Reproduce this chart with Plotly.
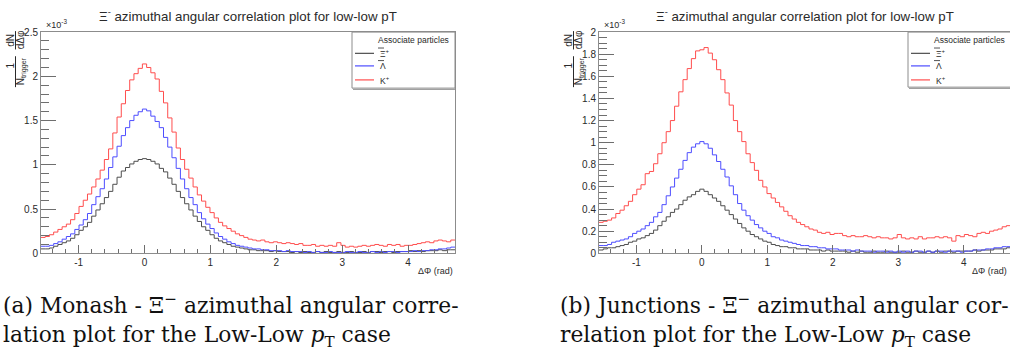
import numpy as np
import plotly.graph_objects as go

# ---------------- data (values in units of 1e-3) ----------------
n_bins = 98
dphi_min, dphi_max = -np.pi / 2, 3 * np.pi / 2

monash_xi = [0.05, 0.05, 0.06, 0.08, 0.10, 0.12, 0.14, 0.17, 0.21, 0.26, 0.30, 0.35, 0.42, 0.49, 0.56, 0.63, 0.70, 0.78, 0.86, 0.93, 0.97, 1.01, 1.04, 1.06, 1.07,
             1.06, 1.04, 1.01, 0.96, 0.92, 0.85, 0.78, 0.70, 0.63, 0.56, 0.49, 0.42, 0.36, 0.30, 0.26, 0.21, 0.17, 0.14, 0.12, 0.10, 0.08, 0.07, 0.06, 0.05,
             0.04, 0.04, 0.03, 0.03, 0.03, 0.02, 0.03, 0.02, 0.02, 0.02, 0.01, 0.02, 0.01, 0.02, 0.01, 0.01, 0.02, 0.01, 0.02, 0.01, 0.01, 0.02, 0.01, 0.01,
             0.02, 0.01, 0.01, 0.02, 0.01, 0.02, 0.02, 0.01, 0.02, 0.02, 0.01, 0.02, 0.02, 0.02, 0.03, 0.02, 0.03, 0.02, 0.03, 0.03, 0.03, 0.04, 0.03, 0.04, 0.04]
monash_lambda = [0.08, 0.08, 0.09, 0.11, 0.13, 0.16, 0.19, 0.22, 0.27, 0.32, 0.38, 0.45, 0.55, 0.64, 0.73, 0.84, 0.97, 1.09, 1.21, 1.33, 1.42, 1.50, 1.56, 1.60, 1.63,
                 1.61, 1.55, 1.49, 1.42, 1.31, 1.20, 1.08, 0.96, 0.84, 0.73, 0.63, 0.55, 0.46, 0.39, 0.33, 0.28, 0.23, 0.19, 0.16, 0.13, 0.11, 0.09, 0.08, 0.07,
                 0.06, 0.05, 0.05, 0.04, 0.04, 0.03, 0.03, 0.03, 0.02, 0.03, 0.02, 0.02, 0.02, 0.01, 0.02, 0.01, 0.02, 0.01, 0.01, 0.02, 0.01, 0.01, 0.01, 0.02,
                 0.01, 0.01, 0.02, 0.01, 0.01, 0.02, 0.01, 0.02, 0.01, 0.02, 0.02, 0.01, 0.02, 0.02, 0.02, 0.03, 0.02, 0.03, 0.03, 0.04, 0.04, 0.05, 0.05, 0.06, 0.07]
monash_k = [0.18, 0.19, 0.21, 0.24, 0.27, 0.30, 0.33, 0.38, 0.45, 0.53, 0.60, 0.67, 0.75, 0.84, 0.94, 1.06, 1.18, 1.36, 1.54, 1.69, 1.84, 1.96, 2.03, 2.09, 2.14,
            2.10, 2.04, 1.97, 1.83, 1.70, 1.53, 1.37, 1.19, 1.06, 0.95, 0.85, 0.75, 0.66, 0.59, 0.52, 0.46, 0.40, 0.35, 0.31, 0.28, 0.25, 0.22, 0.20, 0.18,
            0.16, 0.15, 0.14, 0.15, 0.13, 0.12, 0.13, 0.12, 0.11, 0.12, 0.11, 0.10, 0.11, 0.09, 0.09, 0.10, 0.08, 0.09, 0.08, 0.09, 0.08, 0.12, 0.09, 0.07,
            0.08, 0.07, 0.08, 0.09, 0.08, 0.09, 0.10, 0.09, 0.08, 0.10, 0.09, 0.10, 0.08, 0.09, 0.09, 0.10, 0.11, 0.12, 0.13, 0.12, 0.14, 0.15, 0.14, 0.13, 0.15]

junc_xi = [0.03, 0.04, 0.05, 0.05, 0.06, 0.07, 0.08, 0.10, 0.11, 0.13, 0.14, 0.16, 0.18, 0.21, 0.25, 0.29, 0.33, 0.37, 0.40, 0.44, 0.48, 0.51, 0.53, 0.56, 0.58,
           0.56, 0.53, 0.50, 0.47, 0.43, 0.39, 0.35, 0.31, 0.27, 0.23, 0.20, 0.17, 0.15, 0.13, 0.11, 0.10, 0.08, 0.07, 0.06, 0.06, 0.05, 0.05, 0.04, 0.04,
           0.04, 0.03, 0.03, 0.03, 0.02, 0.03, 0.02, 0.02, 0.02, 0.02, 0.01, 0.02, 0.01, 0.02, 0.01, 0.01, 0.02, 0.01, 0.01, 0.02, 0.01, 0.01, 0.01, 0.02,
           0.01, 0.01, 0.02, 0.01, 0.01, 0.02, 0.01, 0.02, 0.01, 0.02, 0.02, 0.01, 0.02, 0.02, 0.02, 0.02, 0.03, 0.02, 0.03, 0.03, 0.03, 0.04, 0.04, 0.04, 0.05]
junc_lambda = [0.07, 0.07, 0.08, 0.10, 0.11, 0.12, 0.13, 0.15, 0.18, 0.20, 0.22, 0.25, 0.28, 0.33, 0.37, 0.44, 0.52, 0.60, 0.68, 0.76, 0.84, 0.91, 0.96, 0.99, 1.01,
               0.99, 0.95, 0.89, 0.83, 0.76, 0.69, 0.61, 0.53, 0.45, 0.39, 0.34, 0.30, 0.26, 0.23, 0.20, 0.18, 0.15, 0.14, 0.12, 0.11, 0.10, 0.09, 0.08, 0.07,
               0.07, 0.06, 0.06, 0.05, 0.05, 0.04, 0.04, 0.04, 0.03, 0.03, 0.03, 0.02, 0.03, 0.02, 0.02, 0.02, 0.01, 0.02, 0.02, 0.01, 0.02, 0.01, 0.02, 0.01,
               0.02, 0.01, 0.02, 0.02, 0.01, 0.02, 0.01, 0.02, 0.02, 0.01, 0.02, 0.02, 0.02, 0.01, 0.02, 0.02, 0.03, 0.03, 0.03, 0.04, 0.04, 0.05, 0.05, 0.06, 0.06]
junc_k = [0.28, 0.29, 0.30, 0.32, 0.36, 0.39, 0.43, 0.47, 0.53, 0.58, 0.62, 0.72, 0.74, 0.81, 0.90, 1.00, 1.10, 1.20, 1.33, 1.46, 1.57, 1.67, 1.76, 1.83, 1.84,
          1.86, 1.81, 1.75, 1.66, 1.57, 1.45, 1.34, 1.20, 1.10, 1.01, 0.90, 0.82, 0.75, 0.66, 0.60, 0.54, 0.50, 0.46, 0.42, 0.38, 0.34, 0.31, 0.28, 0.26,
          0.24, 0.22, 0.21, 0.19, 0.18, 0.19, 0.17, 0.18, 0.18, 0.16, 0.15, 0.16, 0.15, 0.15, 0.16, 0.15, 0.14, 0.15, 0.14, 0.14, 0.13, 0.14, 0.17, 0.14,
          0.13, 0.14, 0.13, 0.15, 0.13, 0.14, 0.14, 0.15, 0.14, 0.15, 0.14, 0.11, 0.16, 0.15, 0.17, 0.16, 0.15, 0.18, 0.19, 0.18, 0.20, 0.21, 0.22, 0.24, 0.25]

x_tick_vals = [-1, 0, 1, 2, 3, 4]
x_tick_text = ["-1", "0", "1", "2", "3", "4"]
series_names = ["Ξ<sup>+</sup>", "Λ", "K<sup>+</sup>"]
series_bar = [True, True, False]   # anti-particles drawn with an overline
panel_titles = ["Ξ<sup>-</sup> azimuthal angular correlation plot for low-low pT"] * 2
captions = [
    ["(a) Monash - Ξ<sup>−</sup> azimuthal angular corre-",
     "lation plot for the Low-Low <i>p</i><sub>T</sub> case"],
    ["(b) Junctions - Ξ<sup>−</sup> azimuthal angular cor-",
     "relation plot for the Low-Low <i>p</i><sub>T</sub> case"],
]
for arr in (monash_xi, monash_lambda, monash_k, junc_xi, junc_lambda, junc_k):
    if len(arr) != n_bins:
        raise ValueError(f"bad length {len(arr)}")

# ---------------- style ----------------
W, H = 1010, 354
FRAME = "#8c8c8c"
TICK = "#6e6e6e"
TXT = "#2a2a2a"
SANS = "Liberation Sans, Arial, sans-serif"
SERIF = "DejaVu Serif, serif"
COLORS = ["#4d4d4d", "#4d4dff", "#ff4d4d"]

def px(x):
    return x / W

def py(y):
    return 1 - y / H

edges = np.linspace(dphi_min, dphi_max, n_bins + 1)

fig = go.Figure()
panels = [
    dict(xa="x", ya="y", data=[monash_xi, monash_lambda, monash_k], fl=41, fr=455, ymax=2.5, dt=0.5, mdt=0.1),
    dict(xa="x2", ya="y2", data=[junc_xi, junc_lambda, junc_k], fl=599, fr=1010, ymax=2.0, dt=0.2, mdt=0.05),
]
for p in panels:
    for vals, col in zip(p["data"], COLORS):
        fig.add_trace(go.Scatter(x=edges, y=list(vals) + [vals[-1]], mode="lines",
                                 line=dict(shape="hv", width=1, color=col),
                                 xaxis=p["xa"], yaxis=p["ya"], showlegend=False, hoverinfo="skip"))

top, bottom = 27, 256

def xaxis_cfg(fl, fr, anchor, rng):
    return dict(domain=[px(fl), px(fr)], range=rng, anchor=anchor,
                showgrid=False, zeroline=False, showline=True, linecolor=FRAME, linewidth=1, mirror=True,
                ticks="inside", ticklen=8, tickwidth=1, tickcolor=TICK,
                tickmode="array", tickvals=x_tick_vals, ticktext=x_tick_text,
                minor=dict(ticks="inside", ticklen=4, tickwidth=1, tickcolor=TICK,
                           tickmode="linear", tick0=0, dtick=0.2, showgrid=False),
                tickfont=dict(family=SANS, size=10, color=TXT), fixedrange=True)

def yaxis_cfg(anchor, ymax, dt, mdt, mirror):
    return dict(domain=[py(bottom), py(top)], range=[0, ymax], anchor=anchor,
                showgrid=False, zeroline=False, showline=True, linecolor=FRAME, linewidth=1, mirror=mirror,
                ticks="inside", ticklen=15, tickwidth=1, tickcolor=TICK,
                tickmode="linear", tick0=0, dtick=dt,
                minor=dict(ticks="inside", ticklen=8, tickwidth=1, tickcolor=TICK,
                           tickmode="linear", tick0=0, dtick=mdt, showgrid=False),
                tickfont=dict(family=SANS, size=10, color=TXT), fixedrange=True)

right_end = dphi_min + (1010 - 599) / 65.5
fig.update_layout(
    width=W, height=H, margin=dict(l=0, r=0, t=0, b=0),
    paper_bgcolor="white", plot_bgcolor="white",
    xaxis=xaxis_cfg(41, 455, "y", [dphi_min, dphi_max]),
    yaxis=yaxis_cfg("x", 2.5, 0.5, 0.1, True),
    xaxis2=xaxis_cfg(599, 1010, "y2", [dphi_min, right_end]),
    yaxis2=yaxis_cfg("x2", 2.0, 0.2, 0.05, False),
)

ann = []
shapes = []

def text(x, y, s, size, xanchor="center", family=SANS, color=TXT, angle=0, yanchor="middle"):
    ann.append(dict(x=px(x), y=py(y), xref="paper", yref="paper", text=s, showarrow=False,
                    xanchor=xanchor, yanchor=yanchor, textangle=angle,
                    font=dict(family=family, size=size, color=color)))

def hline(x0, x1, y, color, width=1):
    shapes.append(dict(type="line", xref="paper", yref="paper", x0=px(x0), x1=px(x1), y0=py(y), y1=py(y),
                       line=dict(color=color, width=width)))

def vline(x, y0, y1, color, width=1):
    shapes.append(dict(type="line", xref="paper", yref="paper", x0=px(x), x1=px(x), y0=py(y0), y1=py(y1),
                       line=dict(color=color, width=width)))

for i, p in enumerate(panels):
    fl, fr = p["fl"], p["fr"]
    cx = (fl + (fr if i == 0 else 1010.6)) / 2
    text(cx, 10, panel_titles[i], 13.3)
    # y-axis title (fraction form)
    text(fl - 30, 36, "dN", 10, angle=-90)
    text(fl - 20.5, 35, "dΔφ", 10, angle=-90)
    vline(fl - 25.5, 26, 45, TXT)
    text(fl - 30.5, 62, "1", 10, angle=-90)
    text(fl - 19.5, 68, "N<sub>trigger</sub>", 10, angle=-90)
    vline(fl - 25.5, 52, 84, TXT)
    # exponent
    text(fl + 3, 19, "×10<sup>-3</sup>", 9, xanchor="left")
    # x title
    text(455 if i == 0 else 1009, 274, "ΔΦ (rad)", 9, xanchor="right")
    # legend box
    lx0 = 352 if i == 0 else 908
    lx1 = lx0 + 103
    lb = 85 if i == 0 else 84
    shapes.append(dict(type="rect", xref="paper", yref="paper", x0=px(lx0), x1=px(lx1), y0=py(lb), y1=py(top),
                       line=dict(color=FRAME, width=1), fillcolor="white"))
    hline(lx0 + 1, lx1, lb + 1.2, "#a0a0a0", 1.2)
    text(lx0 + 61, 35, "Associate particles", 8.5)
    for j, (name, col) in enumerate(zip(series_names, COLORS)):
        ey = [49, 62, 76.5][j]
        hline(lx0 + 3, lx0 + 22, ey, col, 1.2)
        text(lx0 + 26, ey + 0.5, name, 8.5, xanchor="left")
        if series_bar[j]:
            hline(lx0 + 26, lx0 + 32, ey - 5.5, TXT, 0.8)
    # caption (two lines)
    cx0 = 1 if i == 0 else 558
    text(cx0, 325, captions[i][0], 21.8, xanchor="left", family=SERIF, color="#111111", yanchor="bottom")
    text(cx0, 325, captions[i][1], 21.8, xanchor="left", family=SERIF, color="#111111", yanchor="top")

fig.update_layout(annotations=ann, shapes=shapes)
fig.write_html("out.html", config={"displayModeBar": False},
               post_script="document.body.style.margin='0';document.body.style.overflow='hidden';")
